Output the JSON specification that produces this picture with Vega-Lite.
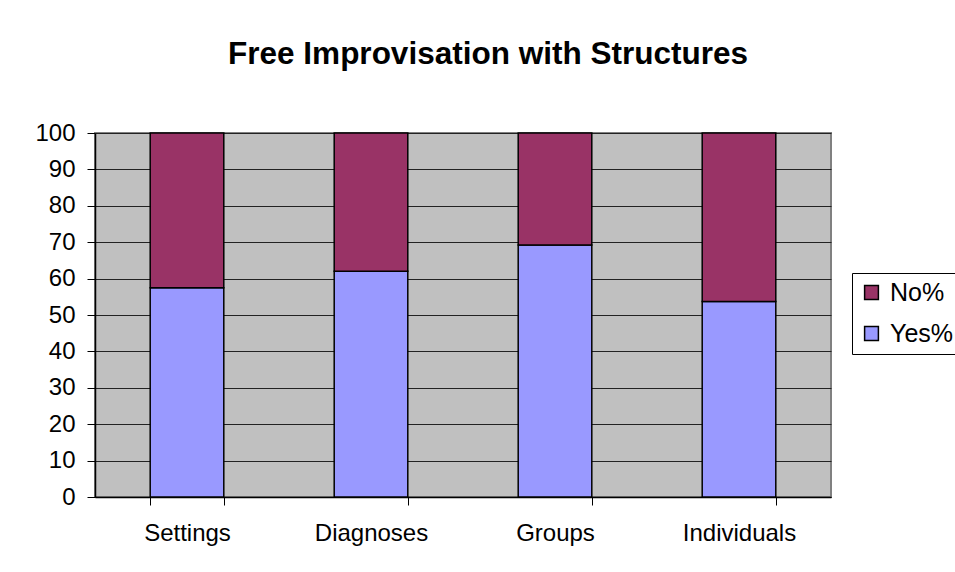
{
  "$schema": "https://vega.github.io/schema/vega-lite/v6.json",
  "width": 736,
  "height": 364,
  "autosize": {"type": "none"},
  "padding": {"left": 95, "top": 133, "right": 124, "bottom": 75},
  "background": "white",
  "title": {
    "text": "Free Improvisation with Structures",
    "font": "Liberation Sans",
    "fontSize": 31.5,
    "fontWeight": "bold",
    "color": "black",
    "anchor": "middle",
    "dx": 25,
    "offset": 51
  },
  "data": {
    "values": [
      {"category": "Settings", "series": "Yes%", "value": 57.5, "ord": 1},
      {"category": "Settings", "series": "No%", "value": 42.5, "ord": 2},
      {"category": "Diagnoses", "series": "Yes%", "value": 62, "ord": 1},
      {"category": "Diagnoses", "series": "No%", "value": 38, "ord": 2},
      {"category": "Groups", "series": "Yes%", "value": 69.2, "ord": 1},
      {"category": "Groups", "series": "No%", "value": 30.8, "ord": 2},
      {"category": "Individuals", "series": "Yes%", "value": 53.7, "ord": 1},
      {"category": "Individuals", "series": "No%", "value": 46.3, "ord": 2}
    ]
  },
  "mark": {"type": "bar", "stroke": "black", "strokeWidth": 1.5},
  "encoding": {
    "x": {
      "field": "category",
      "type": "nominal",
      "sort": ["Settings", "Diagnoses", "Groups", "Individuals"],
      "scale": {"paddingInner": 0.6, "paddingOuter": 0.3},
      "axis": {
        "title": null,
        "labelAngle": 0,
        "labelFont": "Liberation Sans",
        "labelFontSize": 24,
        "labelColor": "black",
        "labelPadding": 16,
        "tickBand": "extent",
        "tickColor": "black",
        "tickSize": 8,
        "domainColor": "black",
        "domainWidth": 1.5,
        "grid": false
      }
    },
    "y": {
      "field": "value",
      "type": "quantitative",
      "stack": "zero",
      "scale": {"domain": [0, 100], "nice": false},
      "axis": {
        "title": null,
        "values": [0, 10, 20, 30, 40, 50, 60, 70, 80, 90, 100],
        "labelFont": "Liberation Sans",
        "labelFontSize": 24,
        "labelColor": "black",
        "labelPadding": 12,
        "tickColor": "black",
        "tickSize": 8,
        "domainColor": "black",
        "domainWidth": 1.5,
        "grid": true,
        "gridColor": "#222222",
        "gridWidth": 1
      }
    },
    "color": {
      "field": "series",
      "type": "nominal",
      "scale": {"domain": ["No%", "Yes%"], "range": ["#993366", "#9999FF"]},
      "legend": {
        "title": null,
        "orient": "none",
        "legendX": 757,
        "legendY": 140,
        "symbolType": "square",
        "symbolSize": 190,
        "symbolStrokeColor": "black",
        "symbolStrokeWidth": 1.5,
        "labelFont": "Liberation Sans",
        "labelFontSize": 25,
        "labelColor": "black",
        "labelOffset": 6,
        "rowPadding": 15,
        "padding": 7,
        "strokeColor": "black",
        "fillColor": "white"
      }
    },
    "order": {"field": "ord", "type": "quantitative"}
  },
  "config": {
    "view": {"fill": "#C0C0C0", "stroke": "#808080", "strokeWidth": 2}
  }
}
